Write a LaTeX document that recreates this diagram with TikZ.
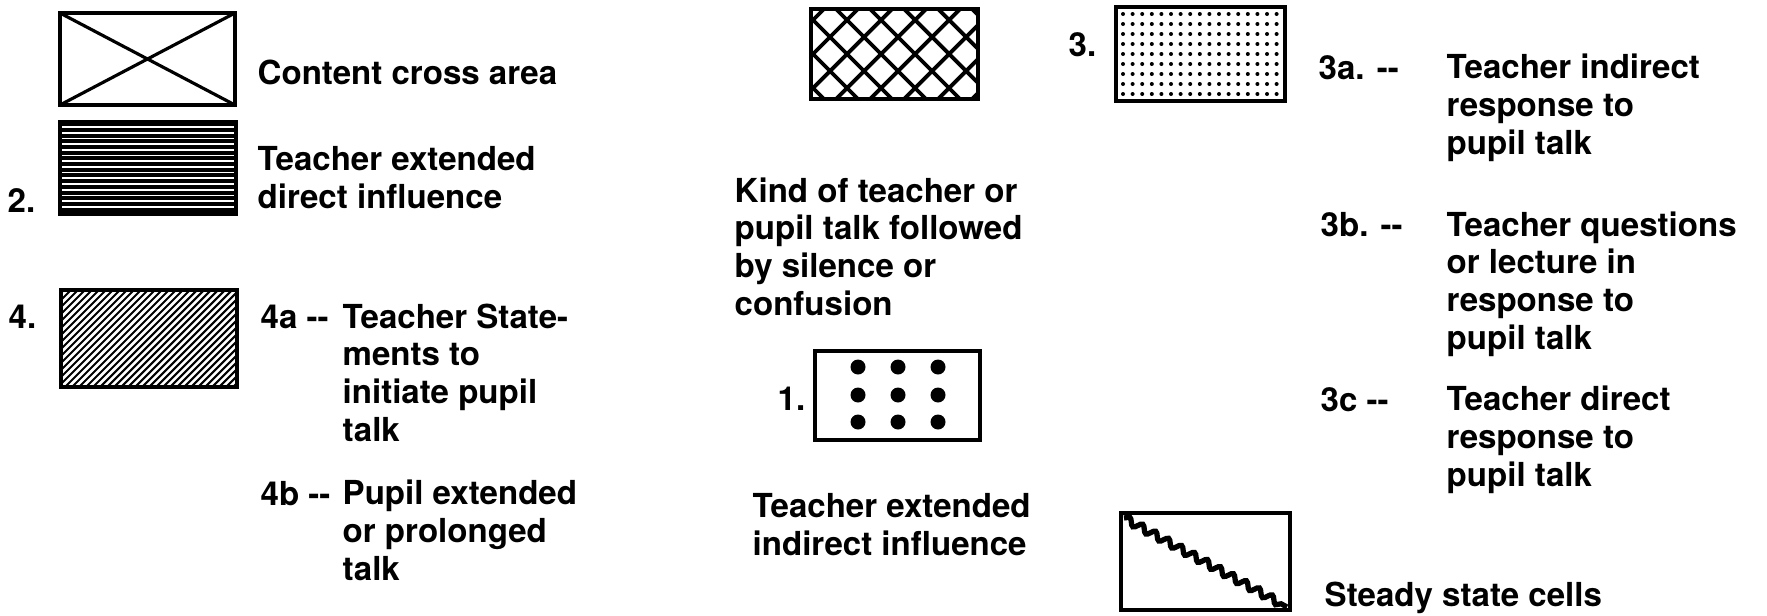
\documentclass[tikz,border=0pt]{standalone}
\usepackage{fontspec}
\setmainfont{TeX Gyre Heros}
\usetikzlibrary{decorations.pathmorphing}

\begin{document}
\begin{tikzpicture}[x=0.01cm, y=-0.01cm,
    box/.style={line width=0.9pt},
    lbl/.style={anchor=base west, align=left, inner sep=0pt,
      font=\fontsize{9.4}{10.7}\selectfont\bfseries}]
  \useasboundingbox (0,0) rectangle (1767,615);
  % multi-line labels sit on the baseline of their last line
  %--- CONTENT CROSS ---
  \draw[box] (60,13) rectangle (235,105);
  \draw[box] (60,13) -- (235,105) (60,105) -- (235,13);
  \node[lbl] (cross) at (257,84) {Content cross area};
  %--- 2. DIRECT ---
  \fill[black] (60,122) rectangle (236,214);
  \foreach \y in {127,132.7,...,210}
    \draw[white, line width=0.5pt] (62,\y) -- (234,\y);
  \draw[box] (60,122) rectangle (236,214);
  \node[lbl] (two) at (7,212) {2.};
  \node[lbl] (direct) at (257,208) {Teacher extended\\direct influence};
  %--- 4. HATCHED ---
  \begin{scope}
    \clip (61,290) rectangle (237,387);
    \foreach \x in {-40,-33,...,240}
      \draw[line width=0.6pt] (\x,387) -- ++(100,-100);
  \end{scope}
  \draw[box] (61,290) rectangle (237,387);
  \node[lbl] (four) at (8,328) {4.};
  \node[lbl] (fouratag) at (260,328) {4a -{}-};
  \node[lbl] (foura) at (342,441) {Teacher State-\\ments to\\initiate pupil\\talk};
  \node[lbl] (fourbtag) at (260,505) {4b -{}-};
  \node[lbl] (fourb) at (342,580) {Pupil extended\\or prolonged\\talk};
  %--- SILENCE ---
  \begin{scope}
    \clip (811,9) rectangle (978,99);
    \foreach \x in {700,734,...,1020} {
      \draw[line width=1.1pt] (\x,99) -- ++(100,-100);
      \draw[line width=1.1pt] (\x,9) -- ++(100,100);
    }
  \end{scope}
  \draw[box] (811,9) rectangle (978,99);
  \node[lbl] (silence) at (734,315) {Kind of teacher or\\pupil talk followed\\by silence or\\confusion};
  %--- 1. INDIRECT ---
  \draw[box] (815,351) rectangle (980,440);
  \foreach \x in {858,898,938}
    \foreach \y in {367,395,422}
      \fill (\x,\y) circle[radius=7.5];
  \node[lbl] (one) at (777,410) {1.};
  \node[lbl] (indirect) at (752,555) {Teacher extended\\indirect influence};
  %--- 3. RESPONSE ---
  \foreach \i in {0,...,16}
    \foreach \j in {0,...,8}
      \fill (1123+9.6*\i,14+10*\j) circle[radius=2];
  \draw[box] (1116,7) rectangle (1285,101);
  \node[lbl] (three) at (1068,56) {3.};
  \node[lbl] (threeatag) at (1318,79) {3a. -{}-};
  \node[lbl] (threea) at (1446,154) {Teacher indirect\\response to\\pupil talk};
  \node[lbl] (threebtag) at (1320,236) {3b. -{}-};
  \node[lbl] (threeb) at (1446,349) {Teacher questions\\or lecture in\\response to\\pupil talk};
  \node[lbl] (threectag) at (1320,411) {3c -{}-};
  \node[lbl] (threec) at (1446,486) {Teacher direct\\response to\\pupil talk};
  %--- STEADY STATE ---
  \draw[box] (1121,513) rectangle (1290,610);
  \draw[line width=1.5pt, decorate,
    decoration={snake, amplitude=1pt, segment length=4.2pt}]
    (1124,518) -- (1287,607);
  \node[lbl] (steady) at (1324,606) {Steady state cells};
\end{tikzpicture}
\end{document}
